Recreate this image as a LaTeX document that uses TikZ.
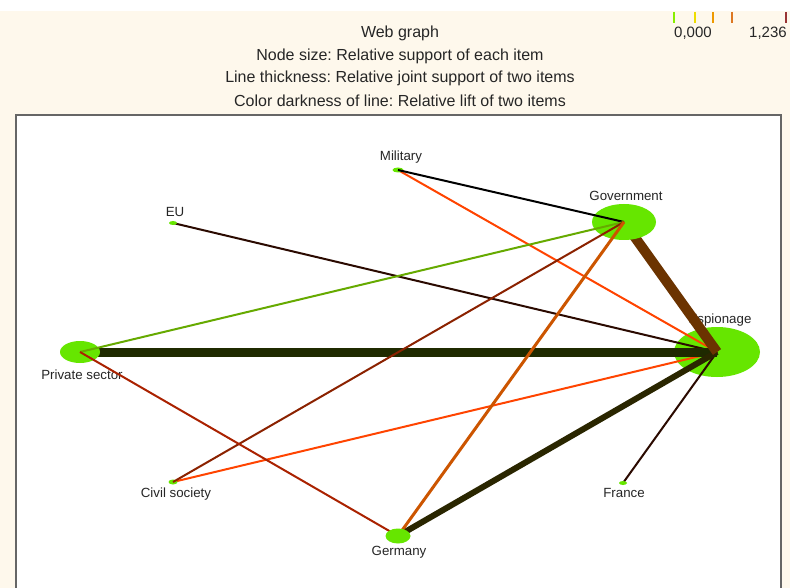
\documentclass[tikz,border=0pt]{standalone}
\usepackage{fontspec}
\setmainfont{Liberation Sans}
\usetikzlibrary{shapes.geometric}
\frenchspacing
\definecolor{cream}{HTML}{FEF8EC}
\definecolor{nodegreen}{HTML}{66E600}
\definecolor{eorange}{HTML}{FF4400}
\definecolor{edarkbrown}{HTML}{2B0A00}
\definecolor{egreen}{HTML}{66AA00}
\definecolor{ebrown}{HTML}{6B3300}
\definecolor{ereddish}{HTML}{8B2200}
\definecolor{eburnt}{HTML}{CC5500}
\definecolor{edarkgreen}{HTML}{1F2A00}
\definecolor{ered}{HTML}{AA2200}
\definecolor{eolive}{HTML}{2A2600}
\pgfdeclarelayer{back}
\pgfdeclarelayer{mid}
\pgfdeclarelayer{front}
\pgfsetlayers{back,mid,main,front}
\tikzset{
  item/.style={ellipse, fill=nodegreen, draw=none, inner sep=0pt},
  lbl/.style={font=\fontsize{13.3}{15}\selectfont, text=black!85, inner sep=0pt},
  ttl/.style={font=\fontsize{16}{18}\selectfont, text=black!85, inner sep=0pt},
  leg/.style={font=\fontsize{15}{17}\selectfont, text=black!85, inner sep=0pt},
  edge/.style={line cap=butt},
  tick/.style={line width=1.2pt}
}
\begin{document}
\begin{tikzpicture}[x=1pt,y=-1pt]
\useasboundingbox (0,0) rectangle (790,588);
\begin{pgfonlayer}{back}
\fill[white] (0,0) rectangle (790,11);
\fill[cream] (0,11) rectangle (790,588);
\fill[white] (16,115) rectangle (781,590);
\draw[black!60, line width=1.3pt] (16,590) -- (16,115) -- (781,115) -- (781,590);

% titles
\node[ttl] (t1) at (400,33) {Web graph};
\node[ttl] (t2) at (400,56) {Node size: Relative support of each item};
\node[ttl] (t3) at (400,78) {Line thickness: Relative joint support of two items};
\node[ttl] (t4) at (400,101) {Color darkness of line: Relative lift of two items};

% legend
\draw[tick, color={rgb,255:red,136;green,238;blue,0}] (674,12) -- (674,23);
\draw[tick, color={rgb,255:red,238;green,221;blue,0}] (695,12) -- (695,23);
\draw[tick, line width=2pt, color={rgb,255:red,238;green,153;blue,0}] (713,12) -- (713,23);
\draw[tick, color={rgb,255:red,221;green,119;blue,34}] (732,12) -- (732,23);
\draw[tick, color={rgb,255:red,153;green,51;blue,51}] (786,12) -- (786,23);
\node[leg] (l0) at (693,33) {0,000};
\node[leg] (l1) at (768,33) {1,236};

% espionage node (under everything)
\node[item, minimum width=86pt, minimum height=50pt] (esp) at (717,352) {};

% labels
\node[lbl] (milL) at (401,157) {Military};
\node[lbl] (govL) at (626,196) {Government};
\node[lbl] (euL) at (175,212) {EU};
\node[lbl] (espL) at (720,320) {Espionage};
\node[lbl] (priL) at (82,375) {Private sector};
\node[lbl] (civL) at (176,494) {Civil society};
\node[lbl] (gerL) at (399,552) {Germany};
\node[lbl] (fraL) at (624,493) {France};
\end{pgfonlayer}

% other nodes
\begin{pgfonlayer}{mid}
\node[item, minimum width=64pt, minimum height=36pt] (gov) at (624,222) {};
\node[item, minimum width=40pt, minimum height=22pt] (pri) at (80,352) {};
\end{pgfonlayer}
\node[item, minimum width=11pt, minimum height=5pt] (mil) at (398,170) {};
\node[item, minimum width=8pt, minimum height=4pt] (eu) at (173,223) {};
\node[item, minimum width=9pt, minimum height=5pt] (civ) at (173,482) {};
\node[item, minimum width=8pt, minimum height=4pt] (fra) at (623,483) {};
\begin{pgfonlayer}{front}
\node[item, minimum width=25pt, minimum height=15pt] (ger) at (398,536) {};
\end{pgfonlayer}

% thick edges, under the larger nodes
\begin{pgfonlayer}{back}
\draw[edge, eorange, line width=2pt] (mil.center) -- (esp.center);
\draw[edge, edarkbrown, line width=2pt] (eu.center) -- (esp.center);
\draw[edge, eorange, line width=2pt] (civ.center) -- (esp.center);
\draw[edge, edarkbrown, line width=2pt] (fra.center) -- (esp.center);
\draw[edge, edarkgreen, line width=9pt] (pri.center) -- (esp.center);
\draw[edge, eolive, line width=6pt] (ger.center) -- (esp.center);
\draw[edge, ebrown, line width=10pt] (gov.center) -- (esp.center);
\end{pgfonlayer}

% thin edges, over the nodes
\draw[edge, black, line width=2pt] (mil.center) -- (gov.center);
\draw[edge, egreen, line width=2pt] (pri.center) -- (gov.center);
\draw[edge, ereddish, line width=2pt] (civ.center) -- (gov.center);
\draw[edge, eburnt, line width=3pt] (ger.center) -- (gov.center);
\draw[edge, ered, line width=2pt] (pri.center) -- (ger.center);
\end{tikzpicture}
\end{document}
